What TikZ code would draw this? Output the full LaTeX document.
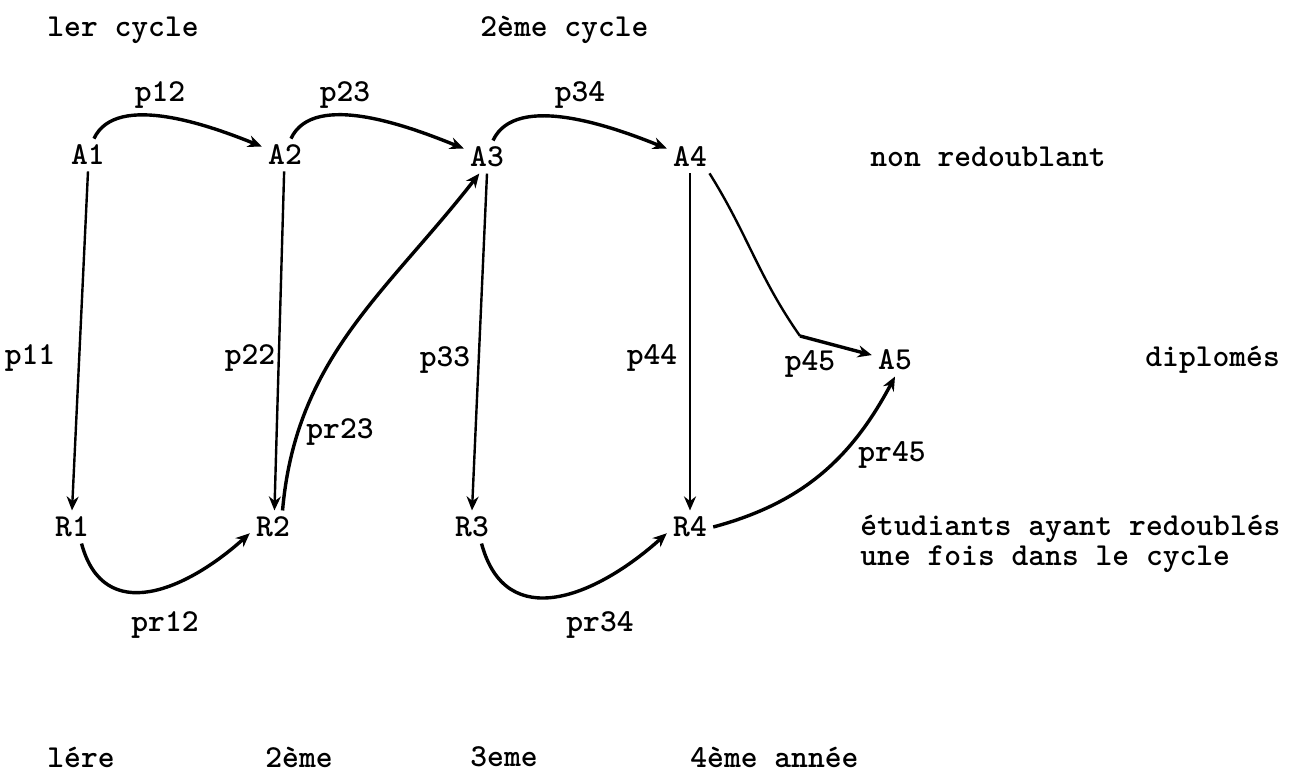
\documentclass[tikz,border=0pt]{standalone}
\usepackage{fontspec}
\usetikzlibrary{arrows.meta}

\begin{document}
\begin{tikzpicture}[
  x=0.5pt, y=-0.5pt,
  font=\ttfamily\bfseries\fontsize{16}{15}\selectfont,
  >={Stealth[length=7pt,width=6pt]},
  state/.style={inner sep=3pt},
  lbl/.style={inner sep=0pt},
  note/.style={anchor=west, inner sep=0pt, align=left},
  arr/.style={->, line width=1.7pt},
  varr/.style={->, line width=1.2pt}
]
\useasboundingbox (0,0) rectangle (1307,775);

% Cycles
\node[note] (cyc1) at (47,30) {ler cycle};
\node[note] (cyc2) at (480,30) {2ème cycle};

% Non redoublants
\node[state] (A1) at (88,155) {A1};
\node[state] (A2) at (285,155) {A2};
\node[state] (A3) at (487,157) {A3};
\node[state] (A4) at (690,157) {A4};
\node[state] (A5) at (895,360) {A5};

% Redoublants
\node[state] (R1) at (72,527) {R1};
\node[state] (R2) at (273,527) {R2};
\node[state] (R3) at (472,527) {R3};
\node[state] (R4) at (690,527) {R4};

% Probabilities
\node[lbl] (p12) at (160,95) {p12};
\node[lbl] (p23) at (345,95) {p23};
\node[lbl] (p34) at (580,95) {p34};
\node[lbl] (p11) at (30,358) {p11};
\node[lbl] (p22) at (250,358) {p22};
\node[lbl] (p33) at (445,360) {p33};
\node[lbl] (p44) at (652,358) {p44};
\node[lbl] (p45) at (810,364) {p45};
\node[lbl] (pr23) at (340,432) {pr23};
\node[lbl] (pr45) at (892,455) {pr45};
\node[lbl] (pr12) at (165,625) {pr12};
\node[lbl] (pr34) at (600,625) {pr34};

% Legend
\node[note] (nonred) at (870,157) {non redoublant};
\node[note] (dipl) at (1145,360) {diplomés};
\node[note] (redoub) at (860,544) {étudiants ayant redoublés\\une fois dans le cycle};

% Years
\node[note] (an1) at (47,757) {lére};
\node[note] (an2) at (265,757) {2ème};
\node[note] (an3) at (470,757) {3eme};
\node[note] (an4) at (690,757) {4ème année};

% Passages
\draw[arr] (A1.70) to[out=65,in=158,looseness=0.8] (A2.160);
\draw[arr] (A2.70) to[out=65,in=158,looseness=0.8] (A3.160);
\draw[arr] (A3.70) to[out=65,in=158,looseness=0.8] (A4.160);

% Redoublements
\draw[varr] (A1.south) -- (R1.north);
\draw[varr] (A2.-93) -- (R2.85);
\draw[varr] (A3.south) -- (R3.north);
\draw[varr] (A4.south) -- (R4.north);

% Sorties des redoublants
\draw[arr] (R1.-60) to[out=-75,in=222,looseness=1.3] (R2.195);
\draw[arr] (R3.-60) to[out=-75,in=222,looseness=1.3] (R4.195);
\draw[arr] (R2.60) to[out=85,in=232] (A3.245);
\draw[arr] (R4.east) to[out=15,in=-118] (A5.south);

% Diplome
\coordinate (k45) at (800,336);
\draw[varr, -] (A4.-40) to[out=-58,in=125] (k45);
\draw[arr] (k45) -- (A5.168);

\end{tikzpicture}
\end{document}
